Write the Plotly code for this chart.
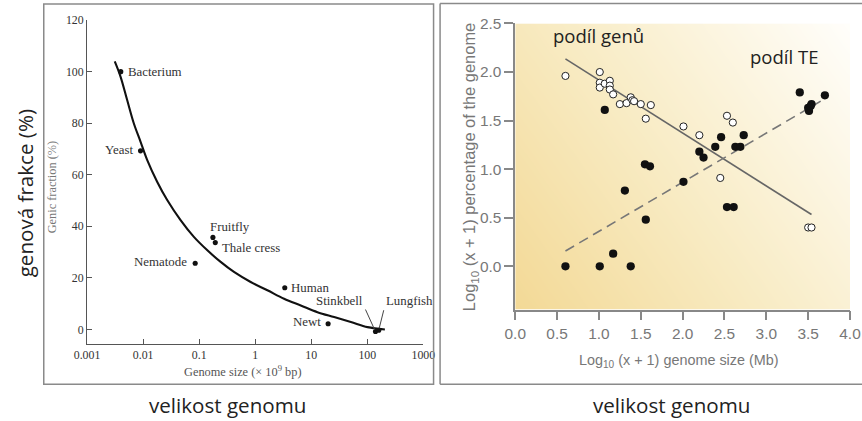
import numpy as np
import plotly.graph_objects as go

# ---------------- Left panel data ----------------
organisms = ["Bacterium", "Yeast", "Fruitfly", "Thale cress", "Nematode", "Human", "Newt", "Stinkbell", "Lungfish"]
genome_size = [0.004, 0.009, 0.176, 0.194, 0.085, 3.37, 20.0, 140, 160]
genic_fraction = [100, 69.3, 35.7, 33.7, 25.7, 16.2, 2.2, -0.8, -0.3]

curve_x = [0.00312, 0.00394, 0.00518, 0.00682, 0.00898, 0.0118, 0.0178, 0.0269, 0.0466,
           0.0805, 0.140, 0.242, 0.418, 0.830, 1.65, 3.27, 6.50, 12.9, 25.6, 50.9, 101, 206]
curve_y = [104.0, 98.2, 89.1, 80.0, 72.9, 65.8, 57.3, 50.2, 42.4,
           35.9, 30.7, 26.2, 22.3, 18.4, 15.2, 11.9, 9.3, 6.7, 4.8, 2.9, 0.9, 0.0]

left_xticks = [0.001, 0.01, 0.1, 1, 10, 100, 1000]
left_xticklabels = ["0.001", "0.01", "0.1", "1", "10", "100", "1000"]
left_yticks = [0, 20, 40, 60, 80, 100, 120]

# ---------------- Right panel data ----------------
gene_x = [0.60, 1.01, 1.01, 1.01, 1.07, 1.13, 1.13, 1.13, 1.17, 1.25, 1.33, 1.38, 1.40,
          1.42, 1.50, 1.62, 1.56, 2.01, 2.20, 2.53, 2.60, 2.45, 3.50, 3.54]
gene_y = [1.96, 2.00, 1.89, 1.84, 1.88, 1.91, 1.86, 1.82, 1.77, 1.67, 1.68, 1.74, 1.71,
          1.70, 1.67, 1.66, 1.52, 1.44, 1.35, 1.55, 1.48, 0.91, 0.40, 0.40]

te_x = [0.60, 1.01, 1.17, 1.38, 1.31, 1.07, 1.56, 1.55, 1.61, 2.01, 2.20, 2.25, 2.39,
        2.46, 2.53, 2.61, 2.63, 2.69, 2.73, 3.40, 3.50, 3.51, 3.53, 3.54, 3.70]
te_y = [0.00, 0.00, 0.13, 0.00, 0.78, 1.61, 0.48, 1.05, 1.03, 0.87, 1.18, 1.12, 1.23,
        1.33, 0.61, 0.61, 1.23, 1.23, 1.35, 1.79, 1.63, 1.60, 1.65, 1.67, 1.76]

gene_fit_x = [0.60, 3.54]
gene_fit_y = [2.135, 0.534]
te_fit_x = [0.60, 3.65]
te_fit_y = [0.158, 1.70]

right_xticks = [0.0, 0.5, 1.0, 1.5, 2.0, 2.5, 3.0, 3.5, 4.0]
right_yticks = [0.0, 0.5, 1.0, 1.5, 2.0, 2.5]

# ---------------- Layout helpers ----------------
W, H = 862, 421
# the captured picture maps page pixels as: shown = S*page + O ; compensate
SX, OX = 0.969, 12.8
SY, OY = 0.975, 9.6
K = 1 / 0.972  # size compensation

def px(xr):
    return ((xr - OX) / SX) / W
def py(yr):
    return 1 - ((yr - OY) / SY) / H
def sz(v):
    return round(v * K, 2)

SERIF = "Liberation Serif, Times New Roman, serif"
NARROW = "Liberation Sans, Arial, sans-serif"
SANS = "Open Sans, Noto Sans, sans-serif"

fig = go.Figure()

# background gradient for right panel (style only)
R_YMIN, R_YMAX = -0.444, 2.5
gx = np.linspace(0, 4, 41)
gy = np.linspace(R_YMIN, R_YMAX, 31)
GX, GY = np.meshgrid(gx, gy)
gz = 0.62 * GX / 4 + 0.38 * (GY - R_YMIN) / (R_YMAX - R_YMIN)
fig.add_trace(go.Heatmap(
    x=gx, y=gy, z=gz, zmin=0, zmax=1, zsmooth="best", showscale=False,
    hoverinfo="skip",
    colorscale=[[0, "#f3d996"], [0.45, "#f8ebc3"], [1, "#fffefb"]],
    xaxis="x2", yaxis="y2"))

# left curve and points
fig.add_trace(go.Scatter(x=curve_x, y=curve_y, mode="lines",
                         line=dict(color="#111", width=2.1, shape="spline"),
                         xaxis="x", yaxis="y", showlegend=False))
fig.add_trace(go.Scatter(x=genome_size, y=genic_fraction, mode="markers",
                         marker=dict(color="#111", size=sz(5)),
                         xaxis="x", yaxis="y", showlegend=False))

# right fits and points
fig.add_trace(go.Scatter(x=gene_fit_x, y=gene_fit_y, mode="lines",
                         line=dict(color="#666", width=1.6),
                         xaxis="x2", yaxis="y2", showlegend=False))
fig.add_trace(go.Scatter(x=te_fit_x, y=te_fit_y, mode="lines",
                         line=dict(color="#777", width=1.6, dash="10px,6px"),
                         xaxis="x2", yaxis="y2", showlegend=False))
fig.add_trace(go.Scatter(x=te_x, y=te_y, mode="markers",
                         marker=dict(color="#111", size=sz(8)),
                         xaxis="x2", yaxis="y2", showlegend=False))
fig.add_trace(go.Scatter(x=gene_x, y=gene_y, mode="markers",
                         marker=dict(color="white", size=sz(7), line=dict(color="#222", width=1)),
                         xaxis="x2", yaxis="y2", showlegend=False))

annotations = []
# point labels on left
lab_font = dict(family=SERIF, size=sz(12.5), color="#333")
label_specs = {
    "Bacterium": dict(xanchor="left", xshift=5, yshift=0),
    "Yeast": dict(xanchor="right", xshift=-6, yshift=1),
    "Fruitfly": dict(xanchor="left", xshift=-5, yshift=10),
    "Thale cress": dict(xanchor="left", xshift=5, yshift=-5),
    "Nematode": dict(xanchor="right", xshift=-6, yshift=1),
    "Human": dict(xanchor="left", xshift=4, yshift=0),
    "Newt": dict(xanchor="right", xshift=-5, yshift=2),
}
for name, gsz, gf in zip(organisms, genome_size, genic_fraction):
    if name in label_specs:
        s = label_specs[name]
        annotations.append(dict(x=np.log10(gsz), y=gf, xref="x", yref="y", text=name,
                                showarrow=False, font=lab_font, yanchor="middle", **s))
    elif name == "Stinkbell":
        annotations.append(dict(x=np.log10(gsz), y=gf, xref="x", yref="y", text=name,
                                showarrow=True, arrowhead=0, arrowwidth=1, arrowcolor="#444",
                                ax=-10, ay=-22, xanchor="right", yanchor="bottom",
                                standoff=2, font=lab_font))
    elif name == "Lungfish":
        annotations.append(dict(x=np.log10(gsz), y=gf, xref="x", yref="y", text=name,
                                showarrow=True, arrowhead=0, arrowwidth=1, arrowcolor="#444",
                                ax=5, ay=-20, xanchor="left", yanchor="bottom",
                                standoff=2, font=lab_font))

def paper_text(xr, yr, text, font, angle=0):
    annotations.append(dict(x=px(xr), y=py(yr), xref="paper", yref="paper", text=text,
                            textangle=angle, showarrow=False, xanchor="center",
                            yanchor="middle", font=font))

# axis titles (left)
paper_text(52, 187, "Genic fraction (%)", dict(family=SERIF, size=sz(12), color="#777"), -90)
paper_text(242, 370, "Genome size (× 10<sup>9</sup> bp)", dict(family=SERIF, size=sz(12), color="#555"))
# axis titles (right)
paper_text(469, 167, "Log<sub>10</sub> (x + 1) percentage of the genome",
           dict(family=NARROW, size=sz(16), color="#777"), -90)
paper_text(677, 360, "Log<sub>10</sub> (x + 1) genome size (Mb)",
           dict(family=NARROW, size=sz(14), color="#777"))
# overlay texts
annotations.append(dict(x=0.43, y=2.376, xref="x2", yref="y2", text="podíl genů",
                        xanchor="left", yanchor="middle", showarrow=False,
                        font=dict(family=SANS, size=sz(18), color="#222")))
annotations.append(dict(x=2.78, y=2.16, xref="x2", yref="y2", text="podíl TE",
                        xanchor="left", yanchor="middle", showarrow=False,
                        font=dict(family=SANS, size=sz(18), color="#222")))
paper_text(25, 193, "genová frakce (%)", dict(family=SANS, size=sz(20), color="#222"), -90)
paper_text(227, 404, "velikost genomu", dict(family=SANS, size=sz(20), color="#222"))
paper_text(670, 404, "velikost genomu", dict(family=SANS, size=sz(20), color="#222"))

border = dict(color="#8a8a8a", width=1.5)
shapes = [
    dict(type="rect", xref="paper", yref="paper", x0=px(43.5), x1=px(432.5),
         y0=py(383.5), y1=py(4.5), line=border),
    dict(type="line", xref="paper", yref="paper", x0=px(439), x1=px(875), y0=py(4), y1=py(4),
         line=border),
    dict(type="line", xref="paper", yref="paper", x0=px(439), x1=px(439), y0=py(4), y1=py(383.5),
         line=border),
    dict(type="line", xref="paper", yref="paper", x0=px(439), x1=px(875), y0=py(383.5), y1=py(383.5),
         line=border),
]

fig.update_layout(
    width=W, height=H, margin=dict(l=0, r=0, t=0, b=0),
    paper_bgcolor="white", plot_bgcolor="rgba(0,0,0,0)", showlegend=False,
    xaxis=dict(type="log", range=[-3, 3], domain=[px(86.7), px(422.3)], anchor="y",
               showline=True, linecolor="#555", linewidth=1, ticks="inside", ticklen=5,
               tickcolor="#555", tickvals=left_xticks, ticktext=left_xticklabels,
               showgrid=False, zeroline=False,
               tickfont=dict(family=SERIF, size=sz(11.5), color="#333")),
    yaxis=dict(range=[-5.5, 120], domain=[py(343), py(20.7)], anchor="x",
               showline=True, linecolor="#555", linewidth=1, ticks="inside", ticklen=5,
               tickcolor="#555", tickvals=left_yticks, showgrid=False, zeroline=False,
               tickfont=dict(family=SERIF, size=sz(11.5), color="#333")),
    xaxis2=dict(range=[0, 4], domain=[px(514), min(1.0, px(849.3))], anchor="y2",
                showline=True, linecolor="#888", linewidth=1.5, ticks="outside", ticklen=9,
                tickcolor="#888", tickwidth=1.5, tickvals=right_xticks,
                tickformat=".1f", showgrid=False, zeroline=False,
                tickfont=dict(family=NARROW, size=sz(15), color="#777")),
    yaxis2=dict(range=[R_YMIN, R_YMAX], domain=[py(309), py(24)], anchor="x2",
                showline=True, linecolor="#888", linewidth=1.5, ticks="outside", ticklen=9,
                tickcolor="#888", tickwidth=1.5, tickvals=right_yticks,
                tickformat=".1f", showgrid=False, zeroline=False,
                tickfont=dict(family=NARROW, size=sz(15), color="#777")),
    annotations=annotations, shapes=shapes,
)

fig.write_html("out.html", config={"displayModeBar": False},
               post_script="document.documentElement.style.margin='0';document.body.style.margin='0';document.body.style.padding='0';document.body.style.overflow='hidden';")
